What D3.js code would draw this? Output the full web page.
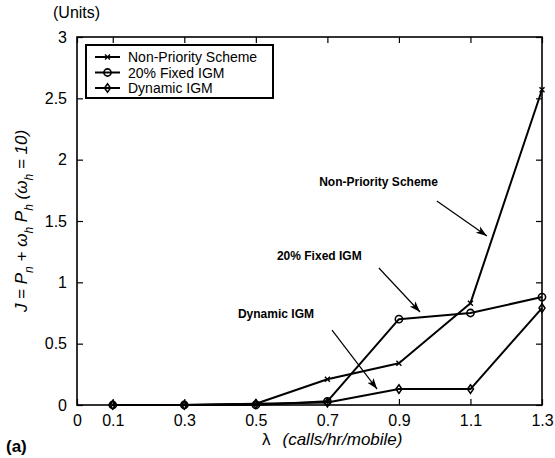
<!DOCTYPE html>
<html>
<head>
<meta charset="utf-8">
<script src="https://cdn.jsdelivr.net/npm/d3@7"></script>
<style>
  body { margin: 0; background: #fff; }
  svg { display: block; }
  text { font-family: "Liberation Sans", Arial, sans-serif; fill: #000; }
</style>
</head>
<body>
<svg id="chart" width="555" height="458"></svg>
<script>
// ---- data ----
const lambdas = [0.1, 0.3, 0.5, 0.7, 0.9, 1.1, 1.3];
const nonPriority = [0, 0, 0.01, 0.21, 0.34, 0.83, 2.57];
const fixed20 = [0, 0, 0, 0.03, 0.70, 0.75, 0.88];
const dynamicIGM = [0, 0, 0.01, 0.02, 0.13, 0.13, 0.79];

const xTicks = [0, 0.1, 0.3, 0.5, 0.7, 0.9, 1.1, 1.3];
const yTicks = [0, 0.5, 1, 1.5, 2, 2.5, 3];

const seriesNames = ['Non-Priority Scheme', '20% Fixed IGM', 'Dynamic IGM'];
const seriesMarkers = ['cross', 'circle', 'diamond'];

// annotation labels + arrows, in data units
const annotations = [
  { text: 'Non-Priority Scheme', tx: 1.009, ty: 1.785, anchor: 'end', from: [1.006, 1.663], to: [1.146, 1.378] },
  { text: '20% Fixed IGM', tx: 0.559, ty: 1.182, anchor: 'start', from: [0.844, 1.117], to: [0.959, 0.758] },
  { text: 'Dynamic IGM', tx: 0.450, ty: 0.709, anchor: 'start', from: [0.713, 0.611], to: [0.839, 0.130] },
];

// ---- layout ----
const svg = d3.select('#chart');
const x = d3.scaleLinear().domain([0, 1.3]).range([77, 542]);
const y = d3.scaleLinear().domain([0, 3]).range([405, 37]);

const series = [nonPriority, fixed20, dynamicIGM].map((vals, i) => ({
  name: seriesNames[i],
  marker: seriesMarkers[i],
  points: vals.map((v, j) => ({ x: lambdas[j], y: v })),
}));

function drawMarker(g, type) {
  if (type === 'cross') {
    g.append('path').attr('d', 'M-2.5,-2.5L2.5,2.5M-2.5,2.5L2.5,-2.5')
      .attr('stroke', '#000').attr('stroke-width', 1.4).attr('fill', 'none');
  } else if (type === 'circle') {
    g.append('circle').attr('r', 3.6)
      .attr('stroke', '#000').attr('stroke-width', 1.6).attr('fill', 'none');
  } else {
    g.append('path').attr('d', 'M0,-4.3L3,0L0,4.3L-3,0Z')
      .attr('stroke', '#000').attr('stroke-width', 1.5).attr('fill', 'none');
  }
}

// ---- axes (box with inward ticks on all sides) ----
const tickLen = 6;
const axes = svg.append('g');

axes.append('g')
  .attr('transform', `translate(0,${y(0)})`)
  .call(d3.axisBottom(x).tickValues(xTicks).tickSizeInner(-tickLen).tickSizeOuter(0).tickPadding(10).tickFormat(d3.format('')))
  .call(g => g.select('.domain').remove());
axes.append('g')
  .attr('transform', `translate(0,${y(3)})`)
  .call(d3.axisTop(x).tickValues(xTicks).tickSizeInner(-tickLen).tickSizeOuter(0).tickFormat(''))
  .call(g => g.select('.domain').remove());
axes.append('g')
  .attr('transform', `translate(${x(0)},0)`)
  .call(d3.axisLeft(y).tickValues(yTicks).tickSizeInner(-tickLen).tickSizeOuter(0).tickPadding(10).tickFormat(d3.format('')))
  .call(g => g.select('.domain').remove());
axes.append('g')
  .attr('transform', `translate(${x(1.3)},0)`)
  .call(d3.axisRight(y).tickValues(yTicks).tickSizeInner(-tickLen).tickSizeOuter(0).tickFormat(''))
  .call(g => g.select('.domain').remove());

axes.selectAll('.tick line').attr('stroke', '#000').attr('stroke-width', 1.2);
axes.selectAll('.tick text').attr('font-size', 16).attr('font-family', '"Liberation Sans", Arial, sans-serif').attr('fill', '#000');

axes.append('rect')
  .attr('x', x(0)).attr('y', y(3))
  .attr('width', x(1.3) - x(0)).attr('height', y(0) - y(3))
  .attr('fill', 'none').attr('stroke', '#000').attr('stroke-width', 1.6);

// ---- series ----
const line = d3.line().x(d => x(d.x)).y(d => y(d.y));
const plot = svg.append('g');
series.forEach(s => {
  plot.append('path').datum(s.points)
    .attr('d', line).attr('fill', 'none')
    .attr('stroke', '#000').attr('stroke-width', 2).attr('stroke-linejoin', 'round');
});
series.forEach(s => {
  s.points.forEach(p => {
    const g = plot.append('g').attr('transform', `translate(${x(p.x)},${y(p.y)})`);
    drawMarker(g, s.marker);
  });
});

// ---- annotations ----
svg.append('defs').append('marker')
  .attr('id', 'arrow').attr('viewBox', '0 0 10 10')
  .attr('refX', 10).attr('refY', 5)
  .attr('markerWidth', 11).attr('markerHeight', 11)
  .attr('markerUnits', 'userSpaceOnUse')
  .attr('orient', 'auto')
  .append('path').attr('d', 'M0,1.5L10,5L0,8.5L2.5,5Z').attr('fill', '#000');

const ann = svg.append('g');
annotations.forEach(a => {
  ann.append('text')
    .attr('x', x(a.tx)).attr('y', y(a.ty))
    .attr('text-anchor', a.anchor)
    .attr('font-size', 12).attr('font-weight', 'bold')
    .text(a.text);
  ann.append('line')
    .attr('x1', x(a.from[0])).attr('y1', y(a.from[1]))
    .attr('x2', x(a.to[0])).attr('y2', y(a.to[1]))
    .attr('stroke', '#000').attr('stroke-width', 1.2)
    .attr('marker-end', 'url(#arrow)');
});

// ---- legend ----
const legend = svg.append('g');
legend.append('rect')
  .attr('x', 86).attr('y', 45).attr('width', 187).attr('height', 53)
  .attr('fill', '#fff').attr('stroke', '#000').attr('stroke-width', 2);
series.forEach((s, i) => {
  const row = legend.append('g').attr('transform', `translate(0,${57 + i * 15.5})`);
  row.append('line').attr('x1', 95).attr('x2', 120).attr('y1', 0).attr('y2', 0)
    .attr('stroke', '#000').attr('stroke-width', 2);
  drawMarker(row.append('g').attr('transform', 'translate(107.5,0)'), s.marker);
  row.append('text').attr('x', 128).attr('y', 5).attr('font-size', 14).text(s.name);
});

// ---- titles ----
svg.append('text').attr('x', 53).attr('y', 18).attr('font-size', 16).text('(Units)');
svg.append('text').attr('x', 6).attr('y', 452).attr('font-size', 17).attr('font-weight', 'bold').text('(a)');

const xl = svg.append('text')
  .attr('x', 262).attr('y', 445).attr('font-size', 17);
xl.append('tspan').text('λ');
xl.append('tspan').attr('dx', 12).attr('font-style', 'italic').text('(calls/hr/mobile)');

const yl = svg.append('text')
  .attr('transform', `translate(27,${(y(0) + y(3)) / 2}) rotate(-90)`)
  .attr('text-anchor', 'middle')
  .attr('font-family', '"Liberation Serif", "Times New Roman", serif')
  .attr('font-style', 'italic')
  .attr('font-size', 17);
const parts = [
  ['J = P', 0], ['n', 1], [' + ω', 0], ['h', 1], [' P', 0], ['h', 1], [' (ω', 0], ['h', 1], [' = 10)', 0],
];
let shifted = false;
parts.forEach(([t, sub]) => {
  const ts = yl.append('tspan').text(t);
  if (sub && !shifted) { ts.attr('dy', 6).attr('font-size', 12); shifted = true; }
  else if (sub) { ts.attr('font-size', 12); }
  else if (shifted) { ts.attr('dy', -6); shifted = false; }
});
</script>
</body>
</html>
